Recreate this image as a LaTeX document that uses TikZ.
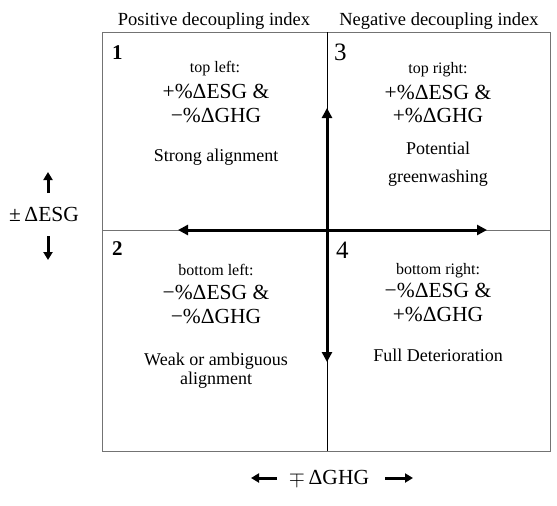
\documentclass[tikz,border=0pt]{standalone}
\usepackage{fontspec}
\setmainfont{Liberation Serif}
\usetikzlibrary{
	positioning,
	arrows.meta
}

\tikzset{
	frame/.style={draw=black!55, line width=1pt},
	divider/.style={draw=black, line width=0.9pt},
	axis/.style={line width=3pt, {Triangle[length=10pt,width=10pt]}-{Triangle[length=10pt,width=10pt]}},
	hint/.style={line width=3pt, -{Triangle[length=8pt,width=9pt]}},
	txt/.style={inner sep=0pt, anchor=base},
	head/.style={txt, font=\fontsize{18.5}{20}\selectfont},
	numb/.style={inner sep=0pt, anchor=base west, font=\fontsize{21}{24}\selectfont\bfseries},
	numr/.style={inner sep=0pt, anchor=base west, font=\fontsize{25}{28}\selectfont},
	tag/.style={txt, font=\fontsize{16}{18}\selectfont},
	sign/.style={txt, font=\fontsize{21.5}{24}\selectfont},
	verdict/.style={txt, font=\fontsize{18}{20}\selectfont}
}

\begin{document}
\begin{tikzpicture}[x=1pt,y=-1pt]
	\useasboundingbox (0,0) rectangle (557,506);

	% frame and quadrant lines
	\coordinate (tl) at (102,32);
	\coordinate (br) at (550,451);
	\coordinate (mt) at (327,32);
	\coordinate (mb) at (327,451);
	\coordinate (ml) at (102,230);
	\coordinate (mr) at (550,230);
	\draw[frame] (tl) rectangle (br);
	\draw[frame] (ml) -- (mr);
	\draw[divider] (mt) -- (mb);

	% axes
	\coordinate (xw) at (178,230);
	\coordinate (xe) at (487,230);
	\coordinate (yn) at (327,108);
	\coordinate (ys) at (327,362);
	\draw[axis] (xw) -- (xe);
	\draw[axis] (yn) -- (ys);

	% column heads
	\node[head] (pos) at (214,25) {Positive decoupling index};
	\node[head] (neg) at (439,25) {Negative decoupling index};

	% quadrant 1
	\node[numb] (n1) at (112,59) {1};
	\node[tag]     (q1tag) at (215,72.7)  {top left:};
	\node[sign]    (q1a)   at (216,98.3)  {+\%ΔESG \&};
	\node[sign]    (q1b)   at (216,122.7) {−\%ΔGHG};
	\node[verdict] (q1v)   at (216,161)   {Strong alignment};

	% quadrant 3
	\node[numr] (n3) at (334,60) {3};
	\node[tag]     (q3tag) at (438,73.3)  {top right:};
	\node[sign]    (q3a)   at (438,99)    {+\%ΔESG \&};
	\node[sign]    (q3b)   at (438,122.7) {+\%ΔGHG};
	\node[verdict] (q3v)   at (438,154)   {Potential};
	\node[verdict] (q3w)   at (438,182.3) {greenwashing};

	% quadrant 2
	\node[numb] (n2) at (112,255) {2};
	\node[tag]     (q2tag) at (216,275.7) {bottom left:};
	\node[sign]    (q2a)   at (216,299)   {−\%ΔESG \&};
	\node[sign]    (q2b)   at (216,323.3) {−\%ΔGHG};
	\node[verdict] (q2v)   at (216,365.7) {Weak or ambiguous};
	\node[verdict] (q2w)   at (216,384.3) {alignment};

	% quadrant 4
	\node[numr] (n4) at (336,258) {4};
	\node[tag]     (q4tag) at (438,274)   {bottom right:};
	\node[sign]    (q4a)   at (438,297.3) {−\%ΔESG \&};
	\node[sign]    (q4b)   at (438,321.7) {+\%ΔGHG};
	\node[verdict] (q4v)   at (438,361.7) {Full Deterioration};

	% side label
	\node[sign] (esg) at (44,221.7) {±\,ΔESG};
	\coordinate (esgu0) at (48,193);
	\coordinate (esgu1) at (48,172);
	\coordinate (esgd0) at (48,236);
	\coordinate (esgd1) at (48,260);
	\draw[hint] (esgu0) -- (esgu1);
	\draw[hint] (esgd0) -- (esgd1);

	% bottom label
	\node[sign] (ghg) at (329,484) {$\mp$\,ΔGHG};
	\coordinate (ghgl0) at (277,478);
	\coordinate (ghgl1) at (251,478);
	\coordinate (ghgr0) at (385,478);
	\coordinate (ghgr1) at (413,478);
	\draw[hint] (ghgl0) -- (ghgl1);
	\draw[hint] (ghgr0) -- (ghgr1);
\end{tikzpicture}
\end{document}
